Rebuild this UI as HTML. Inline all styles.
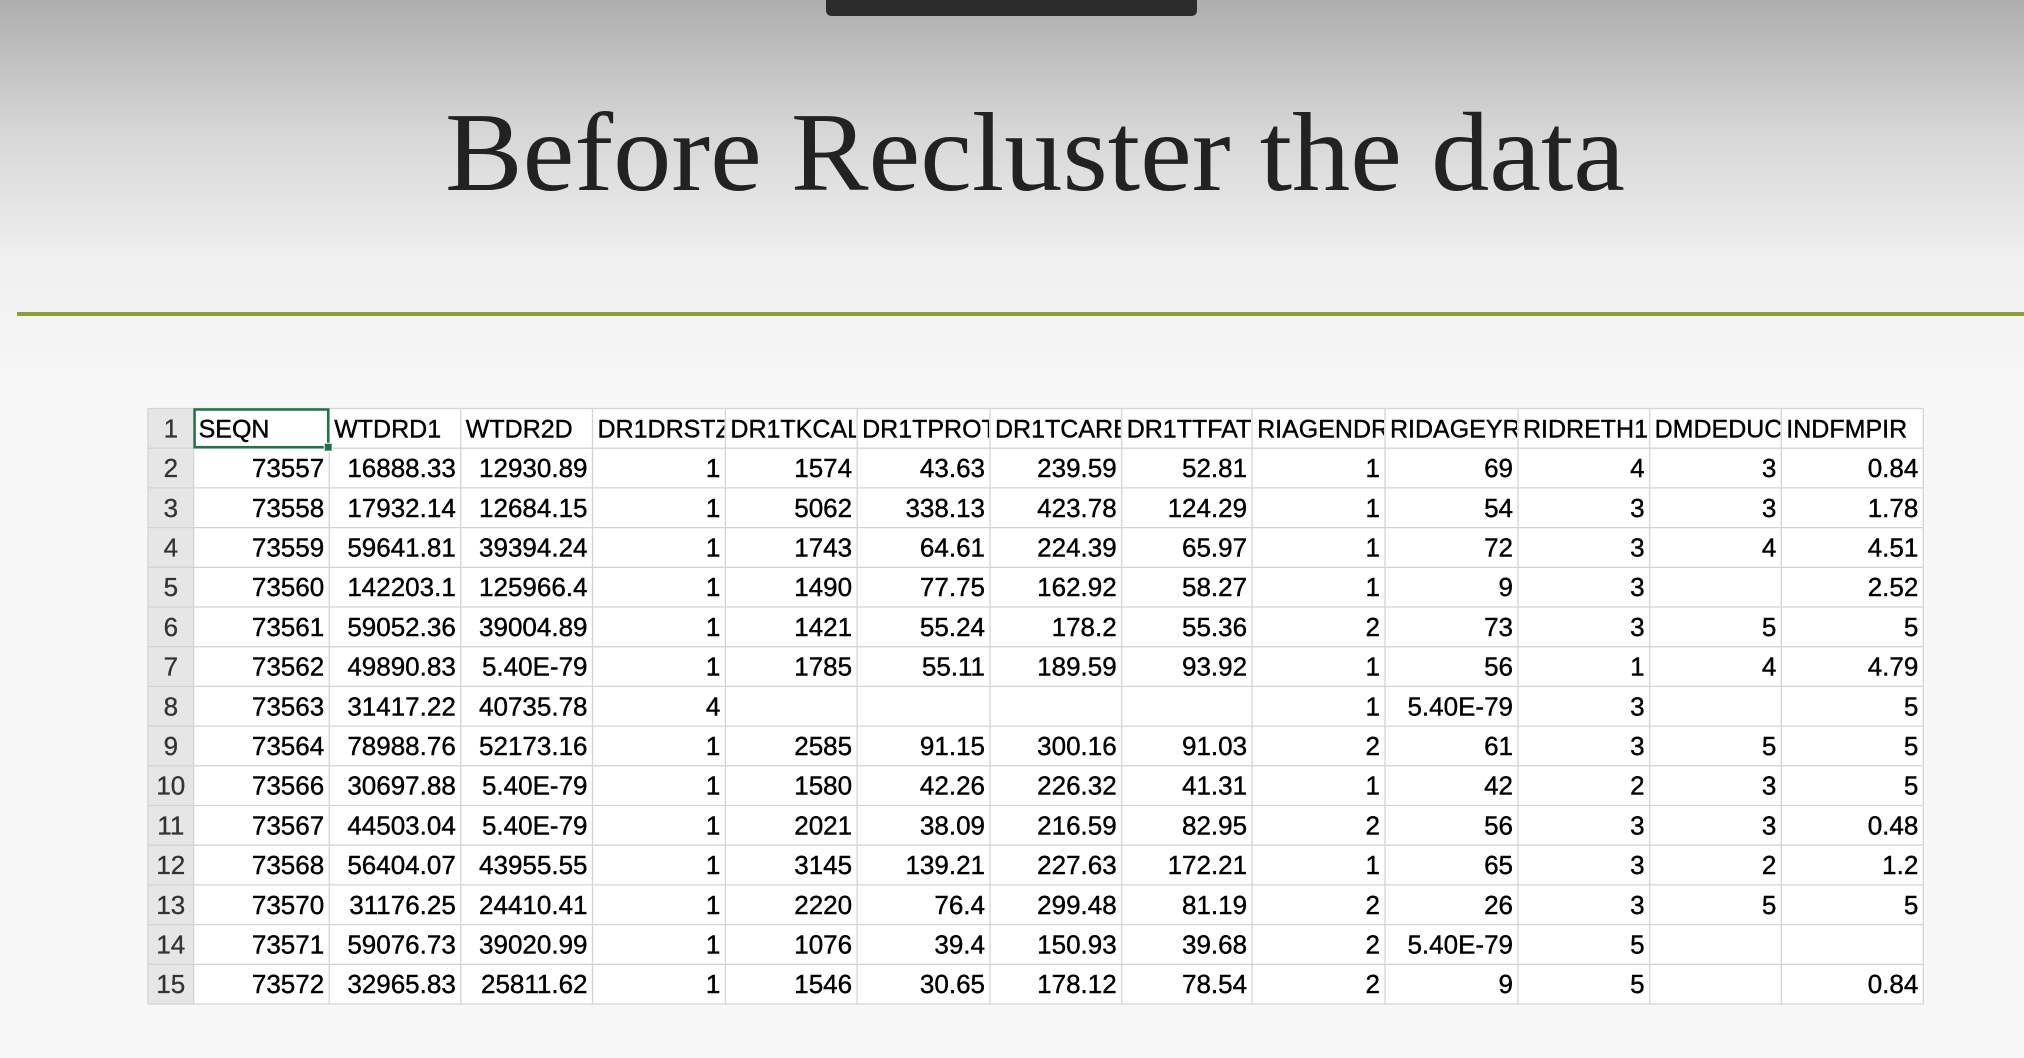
<!DOCTYPE html>
<html><head><meta charset="utf-8"><style>
html,body{margin:0;padding:0;width:2024px;height:1058px;overflow:hidden}
body{background:linear-gradient(#aeaeae 0px,#d6d6d6 130px,#f0f0f0 260px,#f7f7f7 400px,#f7f7f7 1058px)}
svg{position:absolute;left:0;top:0}
</style></head><body>
<svg width="2024" height="1058">
<path d="M826 0 H1197 V10 Q1197 16 1191 16 H832 Q826 16 826 10 Z" fill="#2c2c2c"/>
<text x="1035" y="190" text-anchor="middle" font-family="Liberation Serif, serif" font-size="112" fill="#222" textLength="1180" lengthAdjust="spacingAndGlyphs">Before Recluster the data</text>
<rect x="17" y="312" width="2007" height="4" fill="#8a9f35"/>
<g id="tbl"></g>
</svg>
<script>
const headers=["SEQN","WTDRD1","WTDR2D","DR1DRSTZ","DR1TKCAL","DR1TPROT","DR1TCARB","DR1TTFAT","RIAGENDR","RIDAGEYR","RIDRETH1","DMDEDUC2","INDFMPIR"];
const rows=[
["73557","16888.33","12930.89","1","1574","43.63","239.59","52.81","1","69","4","3","0.84"],
["73558","17932.14","12684.15","1","5062","338.13","423.78","124.29","1","54","3","3","1.78"],
["73559","59641.81","39394.24","1","1743","64.61","224.39","65.97","1","72","3","4","4.51"],
["73560","142203.1","125966.4","1","1490","77.75","162.92","58.27","1","9","3","","2.52"],
["73561","59052.36","39004.89","1","1421","55.24","178.2","55.36","2","73","3","5","5"],
["73562","49890.83","5.40E-79","1","1785","55.11","189.59","93.92","1","56","1","4","4.79"],
["73563","31417.22","40735.78","4","","","","","1","5.40E-79","3","","5"],
["73564","78988.76","52173.16","1","2585","91.15","300.16","91.03","2","61","3","5","5"],
["73566","30697.88","5.40E-79","1","1580","42.26","226.32","41.31","1","42","2","3","5"],
["73567","44503.04","5.40E-79","1","2021","38.09","216.59","82.95","2","56","3","3","0.48"],
["73568","56404.07","43955.55","1","3145","139.21","227.63","172.21","1","65","3","2","1.2"],
["73570","31176.25","24410.41","1","2220","76.4","299.48","81.19","2","26","3","5","5"],
["73571","59076.73","39020.99","1","1076","39.4","150.93","39.68","2","5.40E-79","5","",""],
["73572","32965.83","25811.62","1","1546","30.65","178.12","78.54","2","9","5","","0.84"]];
const NS="http://www.w3.org/2000/svg";
const g=document.getElementById('tbl');
const xs=[148,193.6,329.2,460.8,592.5,725.4,857.1,990,1121.7,1252.1,1385,1518,1649.6,1781.3,1923.3];
const top0=408.5,rh=39.7,nRows=15,bottom=top0+rh*nRows;
function mk(tag,a){const e=document.createElementNS(NS,tag);for(const k in a)e.setAttribute(k,a[k]);g.appendChild(e);return e;}
let r=mk('rect',{x:xs[0],y:top0,width:xs[14]-xs[0],height:rh*nRows,fill:'#ffffff'});


r=mk('rect',{x:xs[0],y:top0,width:xs[1]-xs[0],height:rh*nRows,fill:'#e6e6e6'});


for(let i=0;i<=nRows;i++){const l=mk('line',{x1:xs[0],x2:xs[14],y1:top0+i*rh,y2:top0+i*rh,stroke:'#d4d4d4','stroke-width':1.3});

}
for(let j=0;j<xs.length;j++){const l=mk('line',{x1:xs[j],x2:xs[j],y1:top0,y2:bottom,stroke:'#d4d4d4','stroke-width':1.3});

}
const font='Liberation Sans, sans-serif';
for(let i=0;i<nRows;i++){
  const cy=top0+i*rh+rh/2+9;
  const t=mk('text',{x:(xs[0]+xs[1])/2,y:cy,'text-anchor':'middle','font-family':font,'font-size':26,fill:'#333',stroke:'#333','stroke-width':0.3});
  t.textContent=String(i+1);
  
  
}
for(let j=0;j<headers.length;j++){
  const cp=mk('clipPath',{id:'c'+j});
  const cr=document.createElementNS(NS,'rect');
  cr.setAttribute('x',xs[j+1]);cr.setAttribute('y',top0);cr.setAttribute('width',xs[j+2]-xs[j+1]-1);cr.setAttribute('height',rh);
  cp.appendChild(cr);
  const t=mk('text',{x:xs[j+1]+5,y:top0+rh/2+9,'font-family':font,'font-size':25,fill:'#000',stroke:'#000','stroke-width':0.4,'clip-path':'url(#c'+j+')'});
  t.textContent=headers[j];
  
  
}
for(let i=0;i<rows.length;i++){
  for(let j=0;j<rows[i].length;j++){
    if(!rows[i][j])continue;
    const t=mk('text',{x:xs[j+2]-5,y:top0+(i+1)*rh+rh/2+9,'text-anchor':'end','font-family':font,'font-size':26,fill:'#000',stroke:'#000','stroke-width':0.4});
    t.textContent=rows[i][j];
    
    
  }
}
r=mk('rect',{x:xs[1]+1,y:top0+1,width:xs[2]-xs[1]-2,height:rh-2,fill:'none',stroke:'#217346','stroke-width':2.5});


r=mk('rect',{x:xs[2]-5,y:top0+rh-5,width:8,height:8,fill:'#217346',stroke:'#fff','stroke-width':1});


</script>
</body></html>
